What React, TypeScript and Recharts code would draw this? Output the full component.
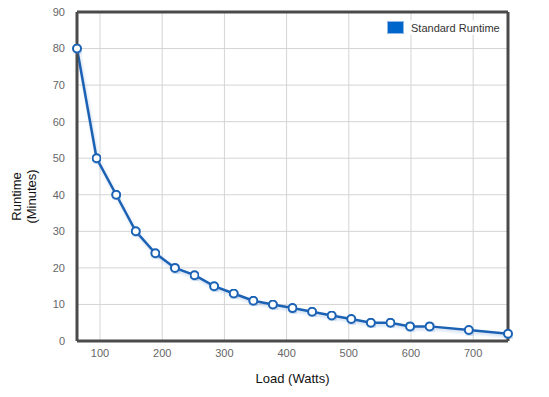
import React from 'react';
import { LineChart, Line, XAxis, YAxis, CartesianGrid, ReferenceLine, Label } from 'recharts';

const loadWatts = [63, 94.5, 126, 157.5, 189, 220.5, 252, 283.5, 315, 346.5, 378, 409.5, 441, 472.5, 504, 535.5, 567, 598.5, 630, 693, 756];
const runtimeMinutes = [80, 50, 40, 30, 24, 20, 18, 15, 13, 11, 10, 9, 8, 7, 6, 5, 5, 4, 4, 3, 2];
const xTicks = [100, 200, 300, 400, 500, 600, 700];
const yTicks = [0, 10, 20, 30, 40, 50, 60, 70, 80, 90];
const seriesName = 'Standard Runtime';

const data = loadWatts.map((w, i) => ({ load: w, runtime: runtimeMinutes[i] }));

const FONT = '"Liberation Sans", Arial, sans-serif';
const LINE = '#1a62b4';

export default function App() {
  return (
    <div style={{ position: 'absolute', left: 0, top: 0, width: 549, height: 397, background: '#fff' }}>
      <LineChart width={549} height={397} data={data} margin={{ top: 12, right: 41, left: 0, bottom: 0 }}>
        <defs>
          <filter id="lineShadow" x="-5%" y="-5%" width="110%" height="120%">
            <feGaussianBlur in="SourceAlpha" stdDeviation="1.5" />
            <feOffset dx="1" dy="2" result="b" />
            <feFlood floodColor="#5a8fd0" floodOpacity="0.35" />
            <feComposite in2="b" operator="in" />
            <feMerge>
              <feMergeNode />
              <feMergeNode in="SourceGraphic" />
            </feMerge>
          </filter>
        </defs>
        <CartesianGrid stroke="#d4d4d4" strokeWidth={1} />
        <XAxis
          dataKey="load"
          type="number"
          domain={[63, 756]}
          ticks={xTicks}
          height={56}
          tickLine={false}
          axisLine={{ stroke: '#4a4a4a', strokeWidth: 3 }}
          tick={{ fill: '#666', fontSize: 11, fontFamily: FONT }}
          tickMargin={2}
        >
          <Label value="Load (Watts)" position="insideBottom" offset={14} style={{ fill: '#111', fontSize: 13, fontFamily: FONT }} />
        </XAxis>
        <YAxis
          type="number"
          domain={[0, 90]}
          ticks={yTicks}
          width={77}
          tickLine={false}
          axisLine={{ stroke: '#4a4a4a', strokeWidth: 3 }}
          tick={{ fill: '#666', fontSize: 11, fontFamily: FONT }}
          tickMargin={6}
          label={(props: any) => {
            const vb = props.viewBox || {};
            const cy = (vb.y ?? 12) + (vb.height ?? 329) / 2 + 20;
            const cx = 24;
            return (
              <text transform={`rotate(-90 ${cx} ${cy})`} x={cx} y={cy} textAnchor="middle" style={{ fill: '#111', fontSize: 13, fontFamily: FONT }}>
                <tspan x={cx} dy={-3}>Runtime</tspan>
                <tspan x={cx} dy={15}>(Minutes)</tspan>
              </text>
            );
          }}
        />
        <ReferenceLine y={90} stroke="#4a4a4a" strokeWidth={3} />
        <ReferenceLine x={756} stroke="#4a4a4a" strokeWidth={3} />
        <Line
          type="linear"
          dataKey="runtime"
          name={seriesName}
          stroke={LINE}
          strokeWidth={2.5}
          dot={{ r: 4, fill: '#fff', stroke: LINE, strokeWidth: 2 }}
          activeDot={false}
          isAnimationActive={false}
          style={{ filter: 'url(#lineShadow)' }}
        />
      </LineChart>
      <div style={{ position: 'absolute', left: 385, top: 20, display: 'flex', alignItems: 'center', fontFamily: FONT, fontSize: 11, color: '#333', background: 'rgba(255,255,255,0.85)', padding: '1px 2px' }}>
        <span style={{ display: 'inline-block', width: 15, height: 11, background: '#0066cc', border: '1px solid #8fb8e6', marginRight: 7 }} />
        <span>{seriesName}</span>
      </div>
    </div>
  );
}
